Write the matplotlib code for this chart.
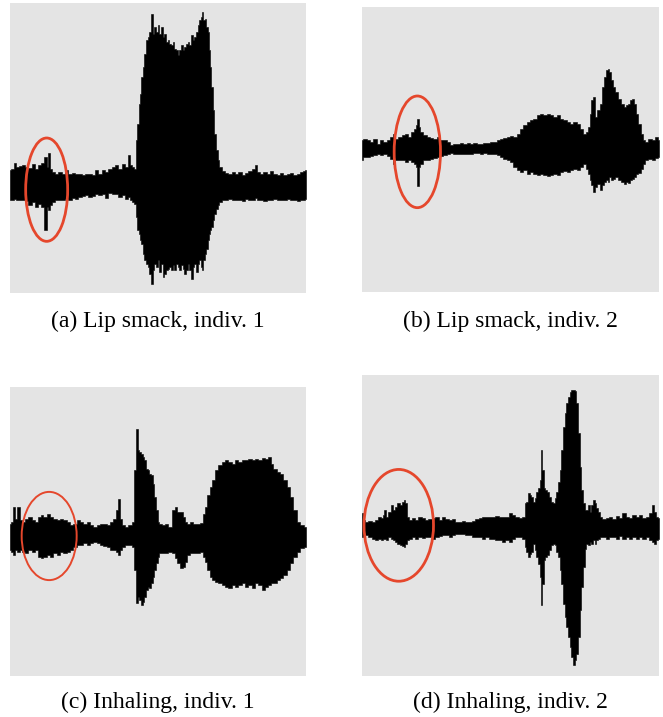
import matplotlib
matplotlib.use("Agg")
import matplotlib.pyplot as plt
from matplotlib.patches import Ellipse

W, H = 663, 717

# (a) Lip smack, indiv. 1 -- envelope of the waveform (upper / lower amplitude)
a_time = [0, 8, 15, 22, 30, 40, 50, 60, 70, 80, 90, 98, 107, 112, 118, 123, 130, 140, 150, 160,
          170, 180, 190, 200, 210, 220, 230, 240, 250, 260, 270, 280, 290, 300, 310, 320, 330, 340, 350, 356,
          362, 370, 376, 380, 384, 388, 392, 396, 400, 405, 410, 415, 420, 425, 430, 435, 440, 445, 450, 455,
          460, 465, 470, 475, 480, 485, 490, 495, 500, 505, 510, 515, 520, 525, 530, 535, 540, 545, 550, 555,
          560, 565, 570, 575, 578, 582, 586, 590, 595, 598, 602, 606, 610, 615, 620, 625, 630, 640, 650, 660,
          670, 680, 690, 700, 710, 720, 730, 738, 745, 755, 765, 775, 785, 795, 805, 815, 825, 835, 845, 855,
          865, 875, 882, 888]
a_upper = [48, 53, 70, 58, 60, 63, 58, 56, 68, 53, 63, 70, 88, 58, 100, 53, 43, 38, 43, 36,
           48, 38, 40, 36, 38, 33, 36, 38, 33, 50, 38, 48, 43, 53, 58, 63, 53, 68, 58, 93,
           63, 58, 53, 138, 188, 248, 278, 328, 358, 398, 438, 448, 463, 518, 458, 478, 463, 483, 458, 478,
           448, 458, 433, 438, 428, 423, 433, 413, 408, 393, 408, 423, 408, 418, 428, 433, 423, 453, 438, 448,
           463, 483, 498, 508, 523, 498, 503, 478, 463, 408, 358, 298, 228, 158, 108, 78, 58, 46, 40, 38,
           43, 38, 43, 33, 40, 46, 53, 63, 43, 38, 43, 38, 46, 38, 33, 40, 33, 38, 40, 33,
           38, 43, 46, 48]
a_lower = [-40, -42, -37, -42, -40, -42, -44, -57, -47, -62, -52, -62, -132, -62, -72, -57, -47, -42, -40, -42,
           -37, -40, -34, -37, -32, -30, -27, -32, -30, -22, -27, -22, -34, -20, -22, -24, -32, -27, -37, -32,
           -42, -47, -52, -92, -132, -142, -162, -172, -202, -222, -232, -242, -262, -292, -252, -232, -242, -222, -257, -232,
           -272, -262, -252, -247, -242, -252, -237, -252, -232, -242, -252, -237, -247, -262, -252, -232, -252, -277, -242, -232,
           -257, -232, -222, -242, -252, -222, -202, -187, -162, -142, -132, -122, -102, -82, -67, -57, -47, -42, -40, -37,
           -42, -40, -42, -44, -37, -42, -40, -34, -42, -40, -44, -40, -42, -39, -42, -40, -42, -39, -42, -40,
           -44, -42, -40, -38]

# (b) Lip smack, indiv. 2
b_time = [0, 9, 19, 29, 39, 49, 59, 69, 79, 89, 96, 104, 114, 124, 134, 144, 152, 159, 164, 168,
          172, 179, 189, 199, 209, 219, 229, 239, 249, 259, 269, 279, 289, 299, 309, 319, 329, 339, 349, 359,
          369, 379, 389, 399, 409, 419, 429, 439, 449, 459, 469, 479, 489, 499, 509, 519, 529, 539, 549, 559,
          569, 579, 589, 599, 609, 619, 629, 639, 649, 659, 667, 674, 682, 686, 690, 696, 702, 709, 716, 722,
          729, 734, 739, 744, 749, 754, 764, 774, 782, 789, 794, 799, 806, 812, 819, 826, 832, 839, 846, 854,
          864, 874, 884, 891]
b_upper = [27, 30, 25, 20, 30, 15, 25, 20, 27, 35, 45, 30, 35, 40, 45, 35, 50, 60, 70, 90,
           65, 50, 40, 35, 33, 30, 35, 27, 25, 20, 10, 15, 13, 17, 15, 17, 15, 17, 15, 13,
           17, 17, 20, 20, 25, 30, 33, 35, 37, 35, 45, 60, 70, 80, 85, 90, 100, 105, 100, 105,
           100, 95, 100, 90, 85, 80, 75, 80, 73, 60, 45, 50, 65, 105, 145, 155, 95, 115, 135, 185,
           215, 235, 240, 230, 205, 185, 170, 150, 135, 125, 130, 135, 145, 150, 135, 105, 75, 45, 25, 20,
           30, 25, 35, 25]
b_lower = [-33, -25, -25, -23, -20, -17, -20, -17, -23, -30, -45, -35, -33, -35, -40, -33, -40, -45, -55, -113,
           -55, -45, -35, -33, -30, -27, -25, -23, -20, -17, -13, -17, -15, -17, -15, -17, -15, -13, -13, -15,
           -13, -17, -15, -17, -20, -25, -30, -35, -40, -55, -65, -70, -65, -75, -70, -75, -80, -75, -80, -83,
           -80, -75, -80, -70, -67, -70, -65, -60, -63, -55, -45, -60, -75, -95, -110, -130, -115, -105, -123, -110,
           -100, -95, -100, -85, -95, -90, -85, -95, -100, -105, -100, -103, -95, -90, -85, -75, -73, -60, -45, -35,
           -30, -35, -27, -25]

# (c) Inhaling, indiv. 1
c_time = [0, 8, 12, 18, 25, 32, 40, 50, 60, 70, 80, 88, 95, 105, 115, 125, 135, 145, 155, 165,
          175, 185, 195, 205, 215, 225, 235, 245, 255, 265, 275, 285, 295, 305, 315, 322, 327, 332, 340, 350,
          360, 370, 375, 380, 385, 390, 395, 400, 405, 410, 415, 420, 425, 430, 435, 440, 445, 450, 460, 470,
          480, 490, 498, 505, 515, 522, 528, 535, 545, 555, 565, 575, 582, 588, 595, 602, 610, 620, 630, 640,
          650, 660, 670, 680, 690, 700, 710, 720, 730, 740, 750, 760, 770, 778, 785, 795, 805, 815, 825, 835,
          845, 855, 865, 875, 888]
c_upper = [40, 45, 90, 55, 90, 50, 45, 55, 60, 50, 45, 60, 65, 60, 68, 60, 55, 50, 55, 50,
           45, 35, 40, 50, 45, 40, 45, 35, 30, 35, 38, 40, 35, 45, 55, 80, 115, 55, 35, 30,
           35, 45, 200, 325, 260, 255, 250, 240, 230, 205, 200, 190, 185, 160, 120, 80, 45, 40, 35, 40,
           30, 80, 90, 75, 75, 60, 45, 40, 45, 38, 40, 42, 70, 90, 125, 150, 170, 200, 215, 225,
           230, 225, 220, 230, 225, 230, 232, 235, 230, 235, 232, 238, 235, 240, 220, 205, 195, 190, 170, 150,
           120, 80, 45, 35, 30]
c_lower = [-40, -45, -55, -40, -45, -40, -45, -50, -40, -45, -40, -60, -65, -60, -55, -60, -50, -55, -45, -50,
           -45, -40, -30, -25, -25, -20, -25, -20, -15, -20, -25, -28, -30, -40, -40, -45, -55, -40, -30, -25,
           -25, -30, -100, -200, -180, -190, -205, -195, -180, -160, -150, -155, -140, -120, -100, -80, -60, -50, -48, -50,
           -45, -50, -65, -80, -95, -90, -75, -55, -50, -48, -50, -45, -60, -75, -100, -120, -130, -135, -140, -145,
           -150, -155, -145, -150, -145, -140, -150, -145, -155, -140, -145, -160, -150, -145, -140, -140, -130, -125, -115, -100,
           -80, -60, -45, -35, -30]

# (d) Inhaling, indiv. 2
d_time = [0, 6, 14, 24, 34, 44, 52, 59, 64, 69, 74, 82, 89, 96, 102, 109, 116, 122, 127, 132,
          137, 144, 154, 164, 174, 184, 194, 204, 214, 224, 234, 244, 254, 264, 274, 284, 294, 304, 314, 324,
          334, 344, 354, 364, 374, 384, 394, 404, 414, 424, 434, 444, 454, 464, 474, 484, 489, 494, 499, 504,
          509, 514, 519, 524, 529, 534, 538, 542, 546, 551, 556, 562, 569, 574, 579, 584, 589, 594, 599, 604,
          609, 614, 619, 624, 629, 634, 639, 644, 649, 654, 659, 664, 669, 674, 679, 684, 689, 694, 699, 704,
          709, 714, 724, 734, 744, 754, 764, 774, 784, 794, 804, 814, 824, 834, 844, 854, 864, 871, 879, 884,
          889]
d_upper = [45, 25, 20, 23, 20, 25, 35, 30, 40, 55, 35, 50, 70, 55, 65, 75, 70, 80, 85, 75,
           35, 25, 30, 25, 35, 30, 25, 27, 30, 35, 25, 35, 27, 25, 27, 20, 20, 23, 20, 20,
           23, 27, 30, 33, 35, 33, 35, 37, 33, 35, 35, 47, 40, 35, 30, 35, 75, 80, 105, 100,
           95, 80, 90, 110, 120, 145, 235, 175, 120, 115, 110, 95, 80, 75, 90, 110, 140, 175, 235, 305,
           345, 375, 395, 410, 415, 415, 413, 375, 285, 185, 115, 75, 55, 55, 70, 50, 70, 85, 75, 60,
           50, 35, 27, 30, 35, 27, 37, 30, 45, 35, 30, 40, 35, 40, 30, 35, 45, 70, 50, 35,
           30]
d_lower = [-25, -23, -20, -25, -30, -33, -30, -35, -30, -30, -35, -25, -30, -35, -40, -45, -50, -53, -55, -45,
           -35, -30, -25, -30, -25, -27, -25, -25, -30, -25, -23, -20, -20, -25, -20, -17, -15, -17, -20, -20,
           -25, -25, -25, -30, -25, -30, -30, -33, -35, -40, -35, -40, -30, -25, -25, -30, -55, -70, -85, -75,
           -70, -45, -65, -85, -105, -145, -230, -165, -95, -85, -80, -65, -50, -45, -50, -70, -85, -125, -165, -225,
           -265, -295, -325, -355, -385, -410, -395, -375, -325, -245, -175, -115, -60, -45, -50, -40, -45, -35, -45, -35,
           -30, -25, -25, -30, -25, -25, -30, -23, -30, -25, -30, -25, -30, -25, -30, -25, -35, -40, -45, -35,
           -30]

captions = ["(a) Lip smack, indiv. 1", "(b) Lip smack, indiv. 2",
            "(c) Inhaling, indiv. 1", "(d) Inhaling, indiv. 2"]

# highlighted region: centre time, centre amplitude, width, height
highlights = [(110, -10, 126, 310), (166, -9.5, 139, 335),
              (117.5, 2.5, 165, 265), (110, 9.5, 208, 335)]

series = [(a_time, a_upper, a_lower), (b_time, b_upper, b_lower),
          (c_time, c_upper, c_lower), (d_time, d_upper, d_lower)]

# panel boxes in pixels (left, top, right, bottom) and amplitude range shown
boxes = [(10, 3, 306, 293), (362, 7, 659, 292), (10, 387, 306, 676), (362, 375, 659, 676)]
ylims = [(-320, 550), (-430, 425), (-418, 450), (-442, 460)]
ring_lw = [2.0, 2.0, 1.4, 2.0]
caption_y = [321, 321, 702, 702]

plt.rcParams['font.family'] = ['Liberation Serif', 'DejaVu Serif']

fig = plt.figure(figsize=(W / 100, H / 100), dpi=100)

for i, (t, up, lo) in enumerate(series):
    l, tp, r, b = boxes[i]
    ax = fig.add_axes([l / W, 1 - b / H, (r - l) / W, (b - tp) / H])
    ax.set_facecolor('#e4e4e4')
    ax.fill_between(t, lo, up, step='mid', color='black', lw=0.4)
    ax.set_xlim(0, t[-1])
    ax.set_ylim(*ylims[i])
    cx, cy, w, h = highlights[i]
    ax.add_patch(Ellipse((cx, cy), w, h, fill=False, edgecolor='#e5472c', lw=ring_lw[i]))
    ax.set_xticks([])
    ax.set_yticks([])
    for s in ax.spines.values():
        s.set_visible(False)
    fig.text((l + r) / 2 / W, 1 - caption_y[i] / H, captions[i],
             ha='center', va='center', fontsize=17)

fig.savefig('out.png', dpi=100)
